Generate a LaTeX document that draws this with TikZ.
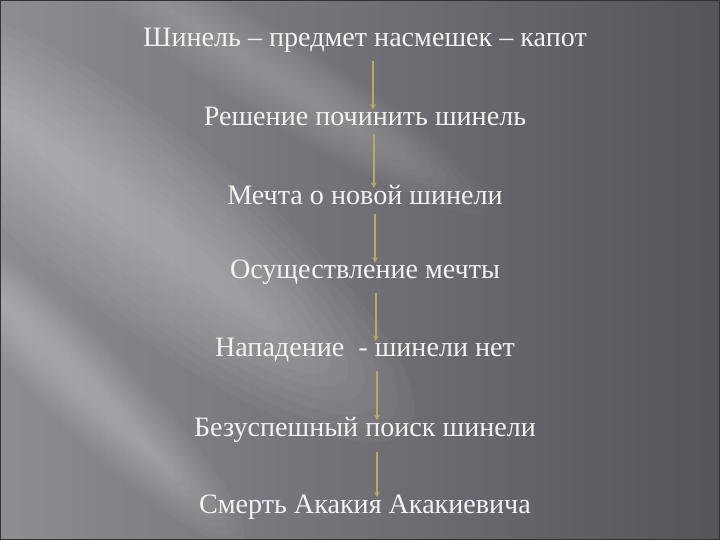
\documentclass[tikz,border=0pt]{standalone}
\usepackage{fontspec}
\setmainfont{Liberation Serif}
\usepackage{xcolor}
\usetikzlibrary{arrows, arrows.meta}
\definecolor{slidelight}{RGB}{140,140,146}
\definecolor{slidedark}{RGB}{84,84,90}
\definecolor{arrowcol}{RGB}{180,172,96}
\tikzset{
  stage/.style={text=white!90!gray, font=\fontsize{20}{24}\selectfont, inner sep=2pt},
  arr/.style={draw=arrowcol, line width=1.2pt, -{Stealth[length=4pt,width=4pt]}}
}

\begin{document}
\begin{tikzpicture}
%\draw[step=1cm,gray,very thin] (0,0) grid (18,13.5); %background grid
\useasboundingbox (0,0) rectangle (18,13.5);
\shade[left color=slidelight, right color=slidedark] (0,0) rectangle (18,13.5);
% soft light streaks
\begin{scope}
\clip (0,0) rectangle (18,13.5);
\foreach \k in {1,...,10}{
  \fill[white, opacity=0.035, rotate around={-38:(3.5,8)}] (3.5,8) ellipse ({9-0.5*\k} and {2.6-0.22*\k});
  \fill[white, opacity=0.025, rotate around={-32:(7,11.5)}] (7,11.5) ellipse ({6.5-0.4*\k} and {1.1-0.09*\k});
  \fill[white, opacity=0.03, rotate around={-45:(2,4)}] (2,4) ellipse ({6-0.3*\k} and {1.2-0.1*\k});
}
\end{scope}
\draw[slidedark!60!black, line width=1.2pt] (0,0) rectangle (18,13.5);

\node[stage] (s1) at (9.125,12.5) {Шинель – предмет насмешек – капот};
\node[stage] (s2) at (9.125,10.6) {Решение починить шинель};
\node[stage] (s3) at (9.125,8.63) {Мечта о новой шинели};
\node[stage] (s4) at (9.125,6.7) {Осуществление мечты};
\node[stage] (s5) at (9.125,4.75) {Нападение \ - шинели нет};
\node[stage] (s6) at (9.125,2.75) {Безуспешный поиск шинели};
\node[stage] (s7) at (9.125,0.83) {Смерть Акакия Акакиевича};

\draw[arr] ([xshift=0.2cm,yshift=-0.15cm]s1.south) -- ([xshift=0.2cm,yshift=-0.15cm]s2.north);
\draw[arr] ([xshift=0.22cm,yshift=-0.15cm]s2.south) -- ([xshift=0.22cm,yshift=-0.15cm]s3.north);
\draw[arr] ([xshift=0.25cm,yshift=-0.15cm]s3.south) -- ([xshift=0.25cm,yshift=-0.15cm]s4.north);
\draw[arr] ([xshift=0.27cm,yshift=-0.15cm]s4.south) -- ([xshift=0.27cm,yshift=-0.15cm]s5.north);
\draw[arr] ([xshift=0.3cm,yshift=-0.15cm]s5.south) -- ([xshift=0.3cm,yshift=-0.15cm]s6.north);
\draw[arr] ([xshift=0.3cm,yshift=-0.15cm]s6.south) -- ([xshift=0.3cm,yshift=-0.15cm]s7.north);
\end{tikzpicture}
\end{document}
